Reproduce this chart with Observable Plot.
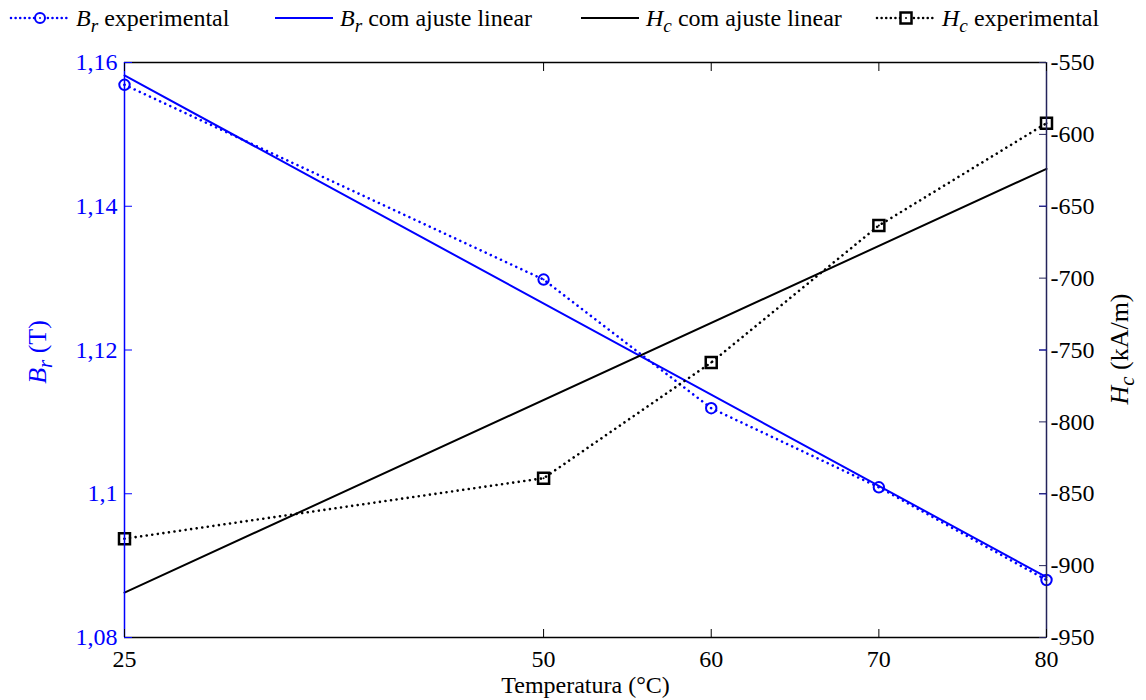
<!DOCTYPE html>
<html><head><meta charset="utf-8">
<script src="https://cdn.jsdelivr.net/npm/d3@7"></script>
<script src="https://cdn.jsdelivr.net/npm/@observablehq/plot@0.6"></script>
<style>
html,body{margin:0;padding:0;background:#fff;}
#wrap{position:relative;width:1146px;height:700px;font-family:"Liberation Serif","Times New Roman",serif;background:#fff;}
#legend{position:absolute;left:0;top:0;width:1146px;height:36px;}
.item{position:absolute;top:0;height:36px;display:flex;align-items:center;font-size:24px;white-space:nowrap;color:#000;}
.item svg{display:block;margin-right:5px;}
.it{font-style:italic;}
.sub{font-style:italic;font-size:0.8em;position:relative;top:0.32em;}
#chart{position:absolute;left:0;top:36px;}
#chart svg text{font-family:"Liberation Serif","Times New Roman",serif !important;font-variant:normal !important;font-variant-numeric:normal !important;}
</style></head>
<body><div id="wrap"><div id="legend"></div><div id="chart"></div></div>
<script>
// ---- data ----
const temps = [25, 50, 60, 70, 80];
const brExp = [1.1569, 1.1298, 1.1119, 1.1009, 1.0880];
const hcExp = [-881.3, -839.2, -758.7, -663.4, -592.2];
const fitTemps = [25, 80];
const brFit = [1.1582, 1.0884];
const hcFit = [-918.8, -624.0];

const xTicks = [25, 50, 60, 70, 80];
const xTickLabels = ["25", "50", "60", "70", "80"];
const yDomain = [1.08, 1.16];
const yTicks = [1.08, 1.10, 1.12, 1.14, 1.16];
const yTickLabels = ["1,08", "1,1", "1,12", "1,14", "1,16"];
const hcDomain = [-950, -550];
const hcTicks = [-950, -900, -850, -800, -750, -700, -650, -600, -550];
const hcTickLabels = ["-950", "-900", "-850", "-800", "-750", "-700", "-650", "-600", "-550"];

const legendItems = [
  {sym: "B", sub: "r", rest: "experimental", kind: "dotCircle", left: 9},
  {sym: "B", sub: "r", rest: "com ajuste linear", kind: "solidBlue", left: 273},
  {sym: "H", sub: "c", rest: "com ajuste linear", kind: "solidBlack", left: 579},
  {sym: "H", sub: "c", rest: "experimental", kind: "dotSquare", left: 875}
];
const xLabel = "Temperatura (°C)";
const yLabelLeft = "Br (T)";
const yLabelRight = "Hc (kA/m)";

const BLUE = "#0000ff";
const NAVY = "#23235a";
const DOT = "0.01 5.6";
const DOTW = 2.6;
const FONT = "\"Liberation Serif\", \"Times New Roman\", serif";

// ---- legend (HTML, above the SVG) ----
const legend = d3.select("#legend");
for (const it of legendItems) {
  const div = legend.append("div").attr("class", "item").style("left", it.left + "px");
  const sw = div.append("svg").attr("width", 62).attr("height", 20);
  const blue = it.kind === "dotCircle" || it.kind === "solidBlue";
  const col = blue ? BLUE : "#000";
  const dotted = it.kind.startsWith("dot");
  sw.append("line").attr("x1", 2).attr("x2", 60).attr("y1", 10).attr("y2", 10)
    .attr("stroke", col).attr("stroke-width", dotted ? DOTW : 2)
    .attr("stroke-linecap", dotted ? "round" : "butt")
    .attr("stroke-dasharray", dotted ? "0.01 4.6" : null);
  if (it.kind === "dotCircle") {
    sw.append("circle").attr("cx", 31).attr("cy", 10).attr("r", 5).attr("fill", "#fff").attr("stroke", col).attr("stroke-width", 2);
    sw.append("circle").attr("cx", 31).attr("cy", 10).attr("r", 1).attr("fill", col);
  }
  if (it.kind === "dotSquare") {
    sw.append("rect").attr("x", 25.5).attr("y", 4.5).attr("width", 11).attr("height", 11).attr("fill", "#fff").attr("stroke", col).attr("stroke-width", 2.5);
    sw.append("circle").attr("cx", 31).attr("cy", 10).attr("r", 1).attr("fill", col);
  }
  const t = div.append("span");
  t.append("span").attr("class", "it").text(it.sym);
  t.append("span").attr("class", "sub").text(it.sub);
  t.append("span").text(" " + it.rest);
}

// ---- chart ----
const toY = h => yDomain[0] + (h - hcDomain[0]) / (hcDomain[1] - hcDomain[0]) * (yDomain[1] - yDomain[0]);
const fromY = y => Math.round(hcDomain[0] + (y - yDomain[0]) / (yDomain[1] - yDomain[0]) * (hcDomain[1] - hcDomain[0]));
const expRows = temps.map((t, i) => ({t, br: brExp[i], hc: toY(hcExp[i])}));
const fitRows = fitTemps.map((t, i) => ({t, br: brFit[i], hc: toY(hcFit[i])}));
const hcTickY = hcTicks.map(toY);

const txt = {fontFamily: FONT, fontSize: 24, fontVariant: "normal"};

const chart = Plot.plot({
  width: 1146,
  height: 664,
  marginLeft: 124,
  marginRight: 100,
  marginTop: 26,
  marginBottom: 63,
  x: {type: "linear", domain: [xTicks[0], xTicks[xTicks.length - 1]]},
  y: {type: "linear", domain: yDomain},
  style: {fontFamily: FONT, fontSize: "24px", background: "#fff", overflow: "visible"},
  marks: [
    Plot.line(fitRows, {x: "t", y: "br", stroke: BLUE, strokeWidth: 2}),
    Plot.line(fitRows, {x: "t", y: "hc", stroke: "#000", strokeWidth: 2}),
    Plot.line(expRows, {x: "t", y: "br", stroke: BLUE, strokeWidth: DOTW, strokeLinecap: "round", strokeDasharray: DOT}),
    Plot.line(expRows, {x: "t", y: "hc", stroke: "#000", strokeWidth: DOTW, strokeLinecap: "round", strokeDasharray: DOT}),
    Plot.dot(expRows, {x: "t", y: "br", r: 5.2, stroke: BLUE, strokeWidth: 2, fill: "none"}),
    Plot.dot(expRows, {x: "t", y: "br", r: 1, fill: BLUE}),
    Plot.dot(expRows, {x: "t", y: "hc", symbol: "square", r: 6.2, stroke: "#000", strokeWidth: 2.5, fill: "none"}),
    Plot.dot(expRows, {x: "t", y: "hc", r: 1, fill: "#000"}),
    // frame
    Plot.ruleY([yDomain[1]], {stroke: "#000", strokeWidth: 1.5}),
    Plot.ruleY([yDomain[0]], {stroke: "#000", strokeWidth: 1.5}),
    Plot.ruleX([xTicks[0]], {stroke: BLUE, strokeWidth: 1.5}),
    Plot.ruleX([xTicks[xTicks.length - 1]], {stroke: NAVY, strokeWidth: 1.5}),
    // axes (ticks inward)
    Plot.axisX({anchor: "bottom", ticks: xTicks, tickSize: -8, tickPadding: 20, tickFormat: d => xTickLabels[xTicks.indexOf(d)], label: null, color: "#000", ...txt}),
    Plot.axisX({anchor: "top", ticks: xTicks, tickSize: -8, tickFormat: () => "", label: null, color: "#000"}),
    Plot.axisY({anchor: "left", ticks: yTicks, tickSize: -8, tickPadding: 15, tickFormat: d => yTickLabels[yTicks.indexOf(d)], label: null, color: BLUE, ...txt}),
    Plot.axisY({anchor: "right", ticks: yTicks, tickSize: -8, tickFormat: () => "", label: null, color: BLUE}),
    Plot.axisY({anchor: "right", ticks: hcTickY, tickSize: -8, tickPadding: 12, tickFormat: d => hcTickLabels[hcTicks.indexOf(fromY(d))], label: null, color: NAVY, fill: "#000", ...txt}),
    // axis titles
    Plot.text([xLabel], {frameAnchor: "bottom", textAnchor: "middle", lineAnchor: "middle", dy: 48, fontSize: 24, fontFamily: FONT, fill: "#000", text: d => d}),
    Plot.text([yLabelLeft], {frameAnchor: "left", textAnchor: "middle", lineAnchor: "middle", rotate: -90, dx: -87, dy: 2, fontSize: 26, fontFamily: FONT, fill: BLUE, text: d => d}),
    Plot.text([yLabelRight], {frameAnchor: "right", textAnchor: "middle", lineAnchor: "middle", rotate: -90, dx: 73, dy: -1, fontSize: 26, fontFamily: FONT, fill: "#000", text: d => d})
  ]
});
document.getElementById("chart").appendChild(chart);

// subscripts in the rotated axis titles
function subscriptify(label, sym, sub, rest) {
  d3.select(chart).selectAll("text").filter(function () { return this.textContent === label; }).each(function () {
    const el = d3.select(this);
    el.text(null);
    el.append("tspan").attr("font-style", "italic").text(sym);
    el.append("tspan").attr("font-style", "italic").attr("font-size", "0.8em").attr("dy", "0.3em").text(sub);
    el.append("tspan").attr("dy", "-0.24em").text(" " + rest);
  });
}
subscriptify(yLabelLeft, "B", "r", "(T)");
subscriptify(yLabelRight, "H", "c", "(kA/m)");
</script>
</body></html>
